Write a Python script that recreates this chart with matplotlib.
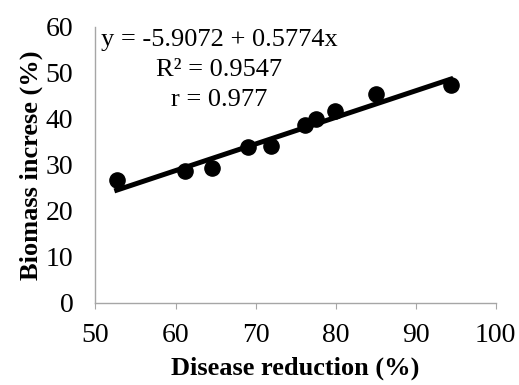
import matplotlib
matplotlib.use("Agg")
import matplotlib.pyplot as plt
import numpy as np

disease_reduction = [52.65, 61.2, 64.5, 69.1, 71.9, 76.2, 77.6, 79.9, 85.0, 94.4]
biomass_increase = [26.6, 28.6, 29.2, 33.9, 34.1, 38.6, 40.0, 41.6, 45.3, 47.4]
intercept = -5.9072
slope = 0.5774
eq_lines = ["y = -5.9072 + 0.5774x", "R² = 0.9547", "r = 0.977"]
x_ticks = [50, 60, 70, 80, 90, 100]
y_ticks = [0, 10, 20, 30, 40, 50, 60]

plt.rcParams['font.family'] = ['Liberation Serif', 'DejaVu Serif']

fig = plt.figure(figsize=(5.19, 3.85), dpi=100)
ax = fig.add_axes([0.184, 0.213, 0.771, 0.718])

ax.scatter(disease_reduction, biomass_increase, s=120, color='black', zorder=3)
xs = np.array([min(disease_reduction), max(disease_reduction)])
ax.plot(xs, intercept + slope * xs, color='black', linewidth=3.6, zorder=2)

ax.set_xlim(50, 100)
ax.set_ylim(0, 60)
ax.set_xticks(x_ticks)
ax.set_yticks(y_ticks)
ax.tick_params(axis='x', labelsize=20, length=4.5, color='#a6a6a6', direction='out', pad=10)
ax.tick_params(axis='y', labelsize=20, length=0, pad=16)
for s in ['top', 'right']:
    ax.spines[s].set_visible(False)
for s in ['left', 'bottom']:
    ax.spines[s].set_color('#a6a6a6')
    ax.spines[s].set_linewidth(1.0)

ax.set_xlabel('Disease reduction (%)', fontsize=19, fontweight='bold', labelpad=6)
ax.set_ylabel('Biomass increse (%)', fontsize=19, fontweight='bold', labelpad=2)

fig.text(219/519, 1-40/385, eq_lines[0], fontsize=19, ha='center', va='center')
fig.text(219/519, 1-70/385, eq_lines[1], fontsize=19, ha='center', va='center')
fig.text(219/519, 1-100/385, eq_lines[2], fontsize=19, ha='center', va='center')

fig.savefig('out.png', dpi=100)
